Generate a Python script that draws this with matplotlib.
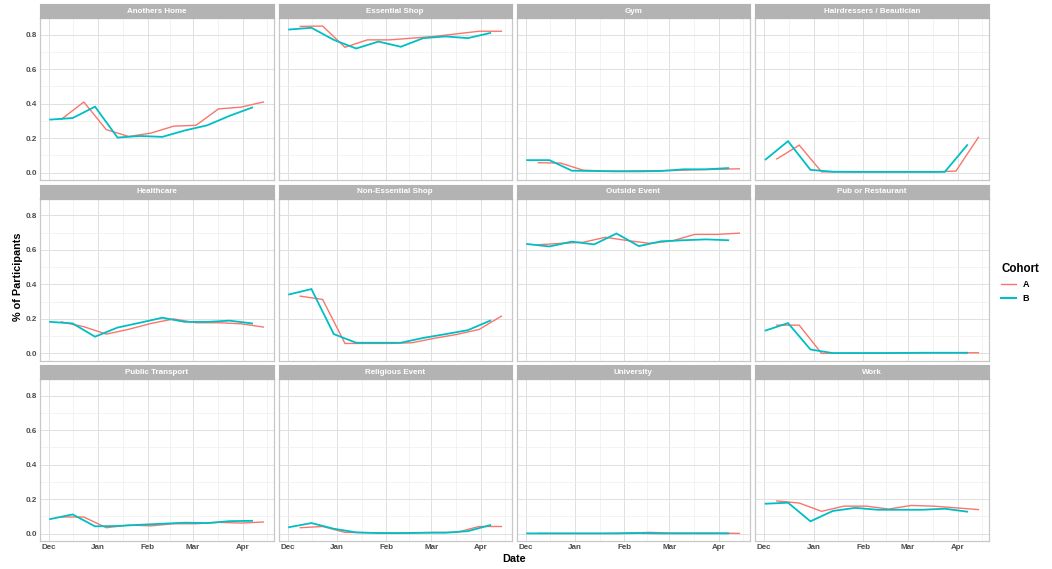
import numpy as np
import pandas as pd
import matplotlib
matplotlib.use("Agg")
import matplotlib.pyplot as plt
import matplotlib.dates as mdates
from matplotlib.lines import Line2D

plt.rcParams['font.family'] = ['Liberation Sans', 'DejaVu Sans']

# survey dates (two-weekly, cohort A runs one week behind B)
dates_b = pd.to_datetime(["2020-12-02", "2020-12-16", "2020-12-30", "2021-01-13", "2021-01-27",
                          "2021-02-10", "2021-02-24", "2021-03-10", "2021-03-24", "2021-04-07"])
dates_a = pd.to_datetime(["2020-12-09", "2020-12-23", "2021-01-06", "2021-01-20", "2021-02-03",
                          "2021-02-17", "2021-03-03", "2021-03-17", "2021-03-31", "2021-04-14"])

locations = ["Anothers Home", "Essential Shop", "Gym", "Hairdressers / Beautician",
             "Healthcare", "Non-Essential Shop", "Outside Event", "Pub or Restaurant",
             "Public Transport", "Religious Event", "University", "Work"]

# share of participants, cohort A
anothers_home_a = [0.31, 0.41, 0.25, 0.21, 0.23, 0.27, 0.275, 0.37, 0.38, 0.41]
essential_shop_a = [0.848, 0.85, 0.727, 0.77, 0.77, 0.78, 0.79, 0.805, 0.82, 0.82]
gym_a = [0.058, 0.056, 0.015, 0.01, 0.01, 0.012, 0.013, 0.017, 0.02, 0.023]
hairdressers_a = [0.08, 0.16, 0.005, 0.005, 0.005, 0.005, 0.005, 0.005, 0.01, 0.205]
healthcare_a = [0.183, 0.155, 0.112, 0.14, 0.174, 0.2, 0.178, 0.178, 0.172, 0.153]
non_essential_a = [0.332, 0.313, 0.058, 0.058, 0.058, 0.062, 0.088, 0.11, 0.139, 0.216]
outside_event_a = [0.63, 0.638, 0.644, 0.673, 0.654, 0.638, 0.652, 0.69, 0.69, 0.697]
pub_a = [0.164, 0.164, 0.0, 0.002, 0.002, 0.002, 0.003, 0.004, 0.004, 0.004]
public_transport_a = [0.097, 0.097, 0.035, 0.05, 0.046, 0.058, 0.058, 0.066, 0.062, 0.068]
religious_a = [0.035, 0.042, 0.008, 0.006, 0.004, 0.004, 0.008, 0.008, 0.042, 0.042]
university_a = [0.002, 0.002, 0.002, 0.002, 0.004, 0.008, 0.004, 0.004, 0.004, 0.002]
work_a = [0.19, 0.178, 0.13, 0.16, 0.16, 0.143, 0.164, 0.16, 0.15, 0.14]

# share of participants, cohort B
anothers_home_b = [0.308, 0.317, 0.383, 0.204, 0.213, 0.208, 0.245, 0.275, 0.33, 0.378]
essential_shop_b = [0.83, 0.84, 0.77, 0.72, 0.76, 0.73, 0.78, 0.79, 0.78, 0.81]
gym_b = [0.073, 0.073, 0.012, 0.01, 0.008, 0.008, 0.01, 0.02, 0.02, 0.027]
hairdressers_b = [0.077, 0.183, 0.017, 0.006, 0.005, 0.005, 0.005, 0.005, 0.005, 0.16]
healthcare_b = [0.183, 0.174, 0.097, 0.15, 0.178, 0.207, 0.183, 0.183, 0.19, 0.174]
non_essential_b = [0.342, 0.373, 0.112, 0.062, 0.062, 0.062, 0.09, 0.112, 0.135, 0.19]
outside_event_b = [0.634, 0.62, 0.648, 0.632, 0.695, 0.622, 0.65, 0.656, 0.661, 0.656]
pub_b = [0.133, 0.176, 0.023, 0.002, 0.002, 0.002, 0.003, 0.004, 0.004, 0.004]
public_transport_b = [0.085, 0.112, 0.043, 0.045, 0.052, 0.058, 0.064, 0.062, 0.073, 0.075]
religious_b = [0.038, 0.062, 0.029, 0.008, 0.004, 0.004, 0.006, 0.006, 0.015, 0.05]
university_b = [0.002, 0.002, 0.002, 0.002, 0.002, 0.004, 0.002, 0.002, 0.002, 0.002]
work_b = [0.174, 0.18, 0.072, 0.132, 0.15, 0.139, 0.139, 0.139, 0.145, 0.128]

series_a = [anothers_home_a, essential_shop_a, gym_a, hairdressers_a, healthcare_a, non_essential_a,
            outside_event_a, pub_a, public_transport_a, religious_a, university_a, work_a]
series_b = [anothers_home_b, essential_shop_b, gym_b, hairdressers_b, healthcare_b, non_essential_b,
            outside_event_b, pub_b, public_transport_b, religious_b, university_b, work_b]

col_a = "#F8766D"
col_b = "#00BFC4"

W, H = 1052, 569
fig = plt.figure(figsize=(W / 100, H / 100), dpi=100)

col_edges = [(39.5, 274), (278.5, 512), (516.5, 750), (755, 989)]
row_edges = [(4, 18.3, 180), (184.7, 199, 360.7), (365, 379.3, 541)]

def px_axes(x0, y0, x1, y1):
    return fig.add_axes([x0 / W, 1 - y1 / H, (x1 - x0) / W, (y1 - y0) / H])

# x range like ggplot: data span plus 5% each side
xmin = dates_b.min()
xmax = dates_a.max()
span = xmax - xmin
xlim = (mdates.date2num(xmin - span * 0.05), mdates.date2num(xmax + span * 0.05))

major = pd.to_datetime(["2020-12-01", "2021-01-01", "2021-02-01", "2021-03-01", "2021-04-01"])
major_num = mdates.date2num(major)
minor_num = list((major_num[:-1] + major_num[1:]) / 2) + [major_num[-1] + 15]

for i, name in enumerate(locations):
    r, c = divmod(i, 4)
    x0, x1 = col_edges[c]
    s0, p0, p1 = row_edges[r]

    ax = px_axes(x0, p0, x1, p1)
    ax.set_xlim(*xlim)
    ax.set_ylim(-0.042, 0.895)
    ax.set_xticks(major_num)
    ax.set_xticks(minor_num, minor=True)
    ax.set_yticks([0.0, 0.2, 0.4, 0.6, 0.8])
    ax.set_yticks([0.1, 0.3, 0.5, 0.7], minor=True)
    ax.grid(True, which="major", color="#E0E0E0", linewidth=0.7)
    ax.grid(True, which="minor", color="#EEEEEE", linewidth=0.5)
    ax.set_axisbelow(True)
    for sp in ax.spines.values():
        sp.set_color("#C8C8C8")
        sp.set_linewidth(0.9)
    ax.tick_params(which="both", length=0, pad=2, labelsize=5.8, labelcolor="#4D4D4D")

    ax.plot(dates_a, series_a[i], color=col_a, lw=1.0, solid_joinstyle="miter")
    ax.plot(dates_b, series_b[i], color=col_b, lw=1.3, solid_joinstyle="miter")

    if c == 0:
        ax.set_yticklabels(["0.0", "0.2", "0.4", "0.6", "0.8"], fontweight="bold")
    else:
        ax.set_yticklabels([])
    if r == 2:
        ax.set_xticklabels(["Dec", "Jan", "Feb", "Mar", "Apr"], fontweight="bold")
    else:
        ax.set_xticklabels([])

    # facet strip
    sax = px_axes(x0, s0, x1, p0)
    sax.set_facecolor("#B3B3B3")
    sax.set_xticks([])
    sax.set_yticks([])
    for sp in sax.spines.values():
        sp.set_color("#B3B3B3")
    sax.text(0.5, 0.5, name, ha="center", va="center", color="white",
             fontsize=5.8, fontweight="bold", transform=sax.transAxes)

fig.text(18 / W, 1 - 277 / H, "% of Participants", rotation=90, ha="center", va="center",
         fontsize=7.8, fontweight="bold")
fig.text(514 / W, 1 - 559 / H, "Date", ha="center", va="center", fontsize=7.8, fontweight="bold")

handles = [Line2D([], [], color=col_a, lw=1.0), Line2D([], [], color=col_b, lw=1.5)]
leg = fig.legend(handles, ["A", "B"], title="Cohort", loc="upper left",
                 bbox_to_anchor=(993 / W, 1 - 255 / H), frameon=False,
                 handlelength=1.6, handletextpad=0.8, labelspacing=0.55,
                 prop={"size": 6.5, "weight": "bold"})
leg.get_title().set_fontsize(8.3)
leg.get_title().set_fontweight("bold")
leg._legend_box.align = "left"

fig.savefig("out.png", dpi=100, facecolor="white")
